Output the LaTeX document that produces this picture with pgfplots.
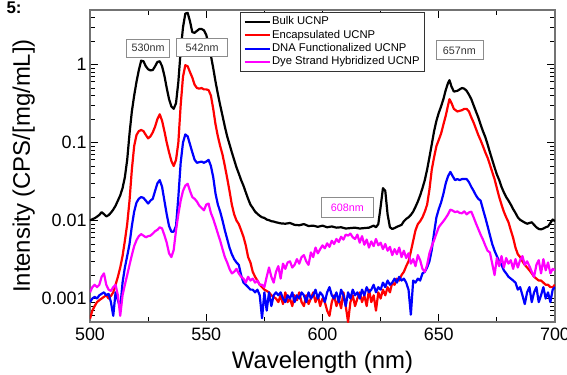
\documentclass[border=0pt]{standalone}
\usepackage{fontspec}
\setmainfont{Liberation Sans}
\usepackage{pgfplots}
\pgfplotsset{compat=1.18}
\definecolor{mag}{RGB}{255,0,255}
\begin{document}
\begin{tikzpicture}
\begin{axis}[
  scale only axis, width=465bp, height=312bp,
  xmin=500, xmax=700, ymode=log, ymin=5e-4, ymax=5,
  xtick={500,550,600,650,700}, minor xtick={525,575,625,675},
  ytick={0.001,0.01,0.1,1}, yticklabels={0.001,0.01,0.1,1},
  xticklabels={500,550,600,650,700},
  minor ytick={6e-4,7e-4,8e-4,9e-4,2e-3,3e-3,4e-3,5e-3,6e-3,7e-3,8e-3,9e-3,0.02,0.03,0.04,0.05,0.06,0.07,0.08,0.09,0.2,0.3,0.4,0.5,0.6,0.7,0.8,0.9,2,3,4},
  tick align=inside, major tick length=8bp, minor tick length=5bp,
  axis line style={draw=black!55, line width=1.1bp},
  tick style={black, line width=0.9bp},
  /pgf/number format/assume math mode=true,
  ticklabel style={font=\fontsize{18}{20}\selectfont},
  xticklabel style={yshift=-2bp},
  xlabel={Wavelength (nm)}, ylabel={Intensity (CPS/[mg/mL])},
  label style={font=\fontsize{24}{28}\selectfont},
  xlabel style={yshift=-4bp},
  legend style={at={(rel axis cs:0.3226,0.9936)}, anchor=north west, draw=black!80, line width=0.8bp,
    font=\fontsize{11.3}{13}\selectfont, inner sep=3bp, row sep=0pt,
    nodes={inner sep=1.4bp, text height=8bp, text depth=2.5bp}},
  legend cell align=left,
  legend image code/.code={\draw[#1] (0bp,0bp) -- (25bp,0bp);},
  every axis plot/.append style={line width=2.2bp, line join=round},
]
\addplot[black] coordinates {
(500,0.0100) (501,0.0104) (502,0.0107) (503,0.0112) (504,0.0118) (505,0.0128) (506,0.0121) (507,0.0113) (508,0.0117) (509,0.0126)
(510,0.0138) (511,0.0155) (512,0.018) (513,0.021) (514,0.026) (515,0.036) (516,0.06) (517,0.13) (518,0.25) (519,0.4)
(520,0.6) (521,0.85) (522,1.12) (523,1.1) (524,0.95) (525,0.87) (526,0.84) (527,0.85) (528,0.95) (529,1.08)
(530,1.1) (531,0.95) (532,0.72) (533,0.5) (534,0.36) (535,0.29) (536,0.27) (537,0.32) (538,0.6) (539,1.5)
(540,3.0) (541,4.5) (542,4.6) (543,3.6) (544,2.6) (545,2.55) (546,2.7) (547,2.85) (548,2.85) (549,2.75)
(550,2.4) (551,1.8) (552,1.3) (553,0.9) (554,0.6) (555,0.42) (556,0.3) (557,0.22) (558,0.16) (559,0.12)
(560,0.095) (561,0.075) (562,0.06) (563,0.048) (564,0.04) (565,0.033) (566,0.028) (567,0.023) (568,0.019) (569,0.016)
(570,0.0145) (571,0.013) (572,0.0122) (573,0.0115) (574,0.011) (575,0.0108) (576,0.0103) (577,0.0101) (578,0.0098) (579,0.0097)
(580,0.0095) (582,0.0092) (584,0.0091) (586,0.0093) (588,0.0088) (590,0.0087) (592,0.009) (594,0.0085) (596,0.0086) (598,0.0083)
(600,0.0086) (602,0.0082) (604,0.0084) (606,0.0081) (608,0.0082) (610,0.0079) (612,0.008) (614,0.0081) (616,0.0079) (618,0.008)
(620,0.0081) (622,0.0086) (623,0.0082) (624,0.009) (625,0.015) (626,0.026) (627,0.024) (628,0.012) (629,0.0082) (630,0.0078)
(631,0.008) (632,0.0083) (634,0.0088) (635,0.0098) (636,0.0105) (637,0.011) (638,0.0118) (639,0.013) (640,0.015) (641,0.0175)
(642,0.021) (643,0.026) (644,0.033) (645,0.045) (646,0.065) (647,0.095) (648,0.14) (649,0.19) (650,0.24) (651,0.29)
(652,0.36) (653,0.47) (654,0.58) (654.6,0.63) (655.5,0.52) (656.5,0.45) (658,0.46) (659,0.48) (660,0.5) (661,0.49)
(662,0.46) (663,0.41) (664,0.36) (665,0.3) (666,0.25) (667,0.21) (668,0.17) (669,0.14) (670,0.118) (671,0.095)
(672,0.075) (673,0.06) (674,0.048) (675,0.039) (676,0.033) (677,0.027) (678,0.023) (679,0.02) (680,0.018) (681,0.016)
(682,0.014) (683,0.0125) (684,0.011) (685,0.0102) (686,0.0098) (687,0.0094) (688,0.0091) (689,0.0093) (690,0.0095) (691,0.0088)
(692,0.0082) (693,0.0078) (694,0.0077) (695,0.0079) (696,0.0082) (697,0.0084) (698,0.0093) (699,0.0103) (700,0.0098)
};
\addlegendentry{Bulk UCNP}
\addplot[red] coordinates {
(500,0.00055) (501,0.0007) (502,0.0008) (503,0.0009) (504,0.00095) (505,0.001) (506,0.00105) (507,0.0011) (508,0.001) (509,0.00108)
(510,0.0012) (511,0.0015) (512,0.0019) (513,0.0025) (514,0.0035) (515,0.0055) (516,0.009) (517,0.018) (518,0.045) (519,0.09)
(520,0.125) (521,0.14) (522,0.145) (523,0.14) (524,0.125) (525,0.113) (526,0.12) (527,0.135) (528,0.16) (529,0.2)
(530,0.23) (531,0.19) (532,0.14) (533,0.1) (534,0.075) (535,0.058) (536,0.05) (537,0.06) (538,0.1) (539,0.3)
(540,0.7) (541,0.98) (542,0.95) (543,0.8) (544,0.68) (545,0.55) (546,0.5) (547,0.49) (548,0.5) (549,0.48)
(550,0.48) (551,0.47) (552,0.4) (553,0.27) (554,0.17) (555,0.12) (556,0.09) (557,0.07) (558,0.05) (559,0.035)
(560,0.024) (561,0.016) (562,0.012) (563,0.01) (564,0.009) (565,0.0075) (566,0.0062) (567,0.0048) (568,0.0034) (569,0.0029)
(570,0.0022) (571,0.0019) (572,0.0017) (573,0.0015) (574,0.0014) (575,0.0013) (576,0.00125) (577,0.0012) (578,0.0011) (579,0.00105)
(580,0.001) (581,0.0009) (582,0.0011) (583,0.00085) (584,0.0012) (585,0.0009) (586,0.001) (587,0.0008) (588,0.0011) (589,0.00095)
(590,0.0012) (591,0.0009) (592,0.0008) (593,0.0011) (594,0.00085) (595,0.001) (596,0.0012) (597,0.0009) (598,0.0011) (599,0.0008)
(600,0.001) (601,0.0009) (602,0.0007) (603,0.0006) (604,0.0009) (605,0.0011) (606,0.0008) (607,0.001) (608,0.00075) (609,0.0012)
(610,0.0008) (611,0.0005) (612,0.0009) (613,0.0011) (614,0.0008) (615,0.001) (616,0.0012) (617,0.0009) (618,0.0011) (619,0.0008)
(620,0.0013) (621,0.0009) (622,0.0011) (623,0.0007) (624,0.0012) (625,0.001) (626,0.0013) (627,0.0011) (628,0.0014) (629,0.0012)
(630,0.0016) (631,0.0015) (632,0.0018) (633,0.0017) (634,0.002) (635,0.0022) (636,0.0026) (637,0.003) (638,0.004) (639,0.0055)
(640,0.0075) (641,0.009) (642,0.0098) (643,0.011) (644,0.013) (645,0.016) (646,0.025) (647,0.045) (648,0.065) (649,0.09)
(650,0.108) (651,0.13) (652,0.17) (653,0.22) (654,0.3) (654.6,0.36) (655.5,0.32) (656.5,0.27) (658,0.25) (660,0.26)
(661,0.27) (662,0.27) (663,0.25) (664,0.21) (665,0.18) (666,0.15) (667,0.125) (668,0.107) (669,0.09) (670,0.075)
(671,0.064) (672,0.052) (673,0.042) (674,0.034) (675,0.026) (676,0.02) (677,0.016) (678,0.013) (679,0.011) (680,0.0095)
(681,0.0075) (682,0.006) (683,0.0045) (684,0.0037) (685,0.0034) (686,0.003) (687,0.0027) (688,0.0025) (689,0.0023) (690,0.0021)
(691,0.0019) (692,0.0018) (693,0.0017) (694,0.0017) (695,0.0016) (696,0.0015) (697,0.0015) (698,0.0014) (699,0.0014) (700,0.0015)
};
\addlegendentry{Encapsulated UCNP}
\addplot[blue] coordinates {
(500,0.0009) (501,0.001) (502,0.00105) (503,0.001) (504,0.0011) (505,0.00115) (506,0.0012) (507,0.0011) (508,0.00115) (509,0.0009)
(510,0.0006) (511,0.0012) (512,0.00095) (513,0.00075) (514,0.0016) (515,0.0025) (516,0.0035) (517,0.005) (518,0.0085) (519,0.013)
(520,0.017) (521,0.019) (522,0.02) (523,0.0195) (524,0.018) (525,0.0165) (526,0.018) (527,0.019) (528,0.024) (529,0.03)
(530,0.033) (531,0.027) (532,0.018) (533,0.012) (534,0.0085) (535,0.0072) (536,0.0072) (537,0.0085) (538,0.02) (539,0.055)
(540,0.1) (541,0.127) (542,0.12) (543,0.095) (544,0.075) (545,0.06) (546,0.055) (547,0.056) (548,0.057) (549,0.055)
(550,0.057) (551,0.06) (552,0.05) (553,0.036) (554,0.022) (555,0.016) (556,0.013) (557,0.01) (558,0.0075) (559,0.0058)
(560,0.0045) (561,0.0037) (562,0.0032) (563,0.0029) (564,0.0027) (565,0.002) (566,0.0016) (567,0.0015) (568,0.0014) (569,0.0013)
(570,0.0013) (571,0.0012) (572,0.0013) (573,0.0011) (574,0.00056) (575,0.0012) (576,0.0007) (577,0.0012) (578,0.0008) (579,0.0011)
(580,0.0012) (581,0.0011) (582,0.0012) (583,0.001) (584,0.0009) (585,0.0011) (586,0.001) (587,0.0012) (588,0.0009) (589,0.0011)
(590,0.001) (591,0.0012) (592,0.0011) (593,0.0009) (594,0.0012) (595,0.001) (596,0.0011) (597,0.0013) (598,0.001) (599,0.0012)
(600,0.0011) (601,0.0009) (602,0.0012) (603,0.0014) (604,0.0011) (605,0.001) (606,0.0012) (607,0.0009) (608,0.0013) (609,0.0011)
(610,0.0008) (611,0.0012) (612,0.001) (613,0.0013) (614,0.0011) (615,0.0012) (616,0.001) (617,0.0013) (618,0.0011) (619,0.0014)
(620,0.0012) (621,0.0013) (622,0.0015) (623,0.0012) (624,0.0014) (625,0.0013) (626,0.0016) (627,0.0014) (628,0.0017) (629,0.0015)
(630,0.0016) (631,0.0018) (632,0.0016) (633,0.0019) (634,0.0017) (635,0.0018) (636,0.0016) (637,0.0013) (638,0.00062) (639,0.0017)
(640,0.0016) (641,0.0018) (642,0.0017) (643,0.0021) (644,0.0022) (645,0.0025) (646,0.003) (647,0.0042) (648,0.007) (649,0.011)
(650,0.014) (651,0.017) (652,0.022) (653,0.03) (654,0.037) (655,0.042) (656,0.037) (657,0.033) (658,0.034) (659,0.033)
(660,0.034) (661,0.034) (662,0.034) (663,0.031) (664,0.027) (665,0.024) (666,0.021) (667,0.019) (668,0.018) (669,0.014)
(670,0.011) (671,0.0085) (672,0.0065) (673,0.005) (674,0.0041) (675,0.0035) (676,0.003) (677,0.0027) (678,0.0023) (679,0.0021)
(680,0.0019) (681,0.0018) (682,0.0017) (683,0.0016) (684,0.0013) (685,0.0014) (686,0.0011) (687,0.00085) (688,0.0012) (689,0.0014)
(690,0.0009) (691,0.0012) (692,0.0014) (693,0.0009) (694,0.0011) (695,0.0014) (696,0.001) (697,0.0012) (698,0.0009) (699,0.0013) (700,0.0014)
};
\addlegendentry{DNA Functionalized UCNP}
\addplot[mag] coordinates {
(500,0.0012) (501,0.0014) (502,0.0015) (503,0.0014) (504,0.0015) (505,0.0019) (506,0.0021) (507,0.0015) (508,0.0013) (509,0.00125)
(510,0.0014) (511,0.0015) (512,0.0011) (513,0.0006) (514,0.0011) (515,0.0015) (516,0.002) (517,0.0027) (518,0.0036) (519,0.0047)
(520,0.0056) (521,0.0063) (522,0.0067) (523,0.0064) (524,0.0061) (525,0.0063) (526,0.0064) (527,0.0068) (528,0.0073) (529,0.0076)
(530,0.0082) (531,0.0079) (532,0.0065) (533,0.0052) (534,0.0038) (535,0.0034) (536,0.0042) (537,0.0075) (538,0.012) (539,0.018)
(540,0.024) (541,0.028) (542,0.0296) (543,0.024) (544,0.02) (545,0.019) (546,0.0175) (547,0.0155) (548,0.0145) (549,0.0135)
(550,0.016) (551,0.0165) (552,0.0125) (553,0.0105) (554,0.0085) (555,0.0068) (556,0.0055) (557,0.0043) (558,0.0034) (559,0.0029)
(560,0.0024) (561,0.0021) (562,0.0022) (563,0.0024) (564,0.0021) (565,0.0019) (566,0.0018) (567,0.0016) (568,0.0019) (569,0.0017)
(570,0.0018) (571,0.0016) (572,0.0017) (573,0.0015) (574,0.0015) (575,0.0014) (576,0.0019) (577,0.0025) (578,0.0019) (579,0.0016)
(580,0.0022) (581,0.0026) (582,0.0018) (583,0.0028) (584,0.0024) (585,0.0029) (586,0.003) (587,0.0025) (588,0.0027) (589,0.0032)
(590,0.0028) (591,0.0034) (592,0.0036) (593,0.003) (594,0.0027) (595,0.0039) (596,0.0034) (597,0.0045) (598,0.0038) (599,0.0043)
(600,0.0048) (601,0.0044) (602,0.0051) (603,0.0046) (604,0.0055) (605,0.005) (606,0.0058) (607,0.0053) (608,0.0062) (609,0.0057)
(610,0.0066) (611,0.0064) (612,0.0068) (613,0.0061) (614,0.0058) (615,0.0066) (616,0.0052) (617,0.0063) (618,0.0049) (619,0.0057)
(620,0.0045) (621,0.0054) (622,0.0047) (623,0.0058) (624,0.0048) (625,0.0052) (626,0.0043) (627,0.005) (628,0.0041) (629,0.0046)
(630,0.0036) (631,0.0043) (632,0.0037) (633,0.0045) (634,0.0034) (635,0.0041) (636,0.0033) (637,0.0038) (638,0.0028) (639,0.0032)
(640,0.0026) (641,0.0036) (642,0.0031) (643,0.0024) (644,0.0022) (645,0.0027) (646,0.0038) (647,0.0047) (648,0.0056) (649,0.0068)
(650,0.0082) (651,0.009) (652,0.0098) (653,0.0108) (654,0.012) (655,0.0138) (656,0.0134) (657,0.0128) (658,0.0131) (659,0.0125)
(660,0.0124) (661,0.0131) (662,0.012) (663,0.0127) (664,0.013) (665,0.011) (666,0.0092) (667,0.0078) (668,0.0066) (669,0.0057)
(670,0.0048) (671,0.0041) (672,0.0039) (673,0.0028) (674,0.002) (675,0.0033) (676,0.0026) (677,0.0035) (678,0.0025) (679,0.0033)
(680,0.0028) (681,0.0031) (682,0.0024) (683,0.0032) (684,0.0025) (685,0.0031) (686,0.0035) (687,0.0027) (688,0.003) (689,0.0026)
(690,0.0022) (691,0.0019) (692,0.0027) (693,0.0031) (694,0.0021) (695,0.0032) (696,0.0023) (697,0.0029) (698,0.0021) (699,0.0024) (700,0.0023)
};
\addlegendentry{Dye Strand Hybridized UCNP}
\begin{scope}[every node/.style={draw=black!45, line width=0.7bp, fill=white, text=black!80, font=\fontsize{10.8}{12}\selectfont, inner xsep=5bp, minimum height=18bp}]
\node at (axis cs:525,1.63) {530nm};
\node[minimum width=51bp] at (axis cs:548.2,1.65) {542nm};
\node[minimum width=47bp, minimum height=19bp] at (axis cs:658.9,1.52) {657nm};
\node[minimum width=52bp, minimum height=20bp, text=mag] at (axis cs:610.7,0.01466) {608nm};
\end{scope}
\end{axis}
\node[anchor=base west, font=\bfseries\fontsize{17}{20}\selectfont] at ([shift={(-87bp,-4bp)}]current axis.north west) {5:};
\pgfresetboundingbox
\path[use as bounding box] ([shift={(-90bp,-52bp)}]current axis.south west) rectangle ([shift={(12bp,10bp)}]current axis.north east);
\end{tikzpicture}
\end{document}
